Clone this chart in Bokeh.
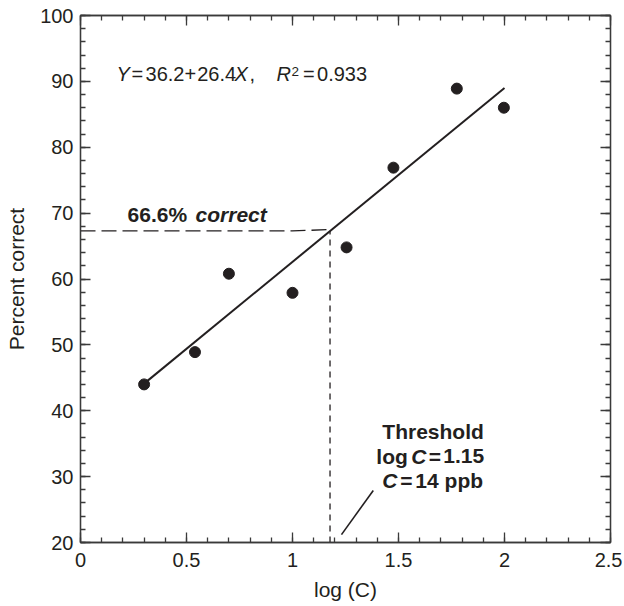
import math
from bokeh.plotting import figure
from bokeh.models import (Label, LinearAxis, SingleIntervalTicker, NumeralTickFormatter,
                          CustomJSTickFormatter, Range1d)
from bokeh.embed import file_html
from bokeh.resources import INLINE

# ---- data ----
log_c = [0.30, 0.54, 0.70, 1.00, 1.255, 1.476, 1.775, 1.997]
pct_correct = [44.0, 48.9, 60.8, 57.9, 64.8, 76.9, 88.9, 86.0]
intercept = 36.2
slope = 26.4
fit_x = [0.30, 2.00]
fit_y = [intercept + slope * v for v in fit_x]
thr_x = 1.177
thr_y = 67.3
h_guide_x = [0.0, 1.0, thr_x]
h_guide_y = [thr_y, thr_y, 67.5]
v_guide_x = [thr_x, thr_x]
v_guide_y = [20.0, thr_y]
leader_x = [1.231, 1.381]
leader_y = [21.2, 27.9]
x_ticks_interval = 0.5
y_ticks_interval = 10

INK = "#231f20"
AX = "#3a3a3a"
FONT = "Liberation Sans"

p = figure(width=622, height=604, x_range=Range1d(0, 2.5), y_range=Range1d(20, 100),
           output_backend="svg", toolbar_location=None,
           min_border_left=80, min_border_right=12, min_border_top=15, min_border_bottom=62)
p.grid.visible = False
p.outline_line_color = AX
p.outline_line_width = 1.3
p.background_fill_color = "white"
p.border_fill_color = "white"


def style_axis(ax, show_labels=True):
    ax.major_tick_in = 10
    ax.major_tick_out = 0
    ax.minor_tick_in = 5
    ax.minor_tick_out = 0
    ax.axis_line_color = AX
    ax.axis_line_width = 1.3
    ax.major_tick_line_color = AX
    ax.major_tick_line_width = 1.3
    ax.minor_tick_line_color = AX
    ax.minor_tick_line_width = 1.3
    ax.major_label_text_font = FONT
    ax.major_label_text_font_size = "20px"
    ax.major_label_text_color = INK
    ax.axis_label_text_font = FONT
    ax.axis_label_text_font_size = "21px"
    ax.axis_label_text_font_style = "normal"
    ax.axis_label_text_color = INK
    if show_labels:
        ax.major_label_standoff = 7
    else:
        ax.major_label_standoff = 0
        ax.formatter = CustomJSTickFormatter(code="return '';")


p.xaxis.ticker = SingleIntervalTicker(interval=x_ticks_interval, num_minor_ticks=5)
p.yaxis.ticker = SingleIntervalTicker(interval=y_ticks_interval, num_minor_ticks=5)
p.xaxis.formatter = NumeralTickFormatter(format="0.[0]")
style_axis(p.xaxis[0])
style_axis(p.yaxis[0])
p.xaxis.major_label_standoff = 10
p.xaxis.axis_label = "log (C)"
p.xaxis.axis_label_standoff = 8
p.yaxis.axis_label = "Percent correct"
p.yaxis.axis_label_standoff = 9

top = LinearAxis(ticker=SingleIntervalTicker(interval=x_ticks_interval, num_minor_ticks=5))
right = LinearAxis(ticker=SingleIntervalTicker(interval=y_ticks_interval, num_minor_ticks=5))
style_axis(top, False)
style_axis(right, False)
p.add_layout(top, "above")
p.add_layout(right, "right")

# guide lines
p.line(h_guide_x, h_guide_y, line_color=INK, line_width=1.3, line_dash="15 6")
p.line(v_guide_x, v_guide_y, line_color=INK, line_width=1.3, line_dash="6 5")
p.line(leader_x, leader_y, line_color=INK, line_width=1.6)

# fit line and points
p.line(fit_x, fit_y, line_color=INK, line_width=2)
p.scatter(log_c, pct_correct, size=11, fill_color=INK, line_color=INK)


def lab(text, x, y, dx=0, size="20px", style="normal", align="left"):
    p.add_layout(Label(x=x, y=y, x_offset=dx, text=text, text_font=FONT, text_font_size=size,
                       text_font_style=style, text_color=INK, text_align=align,
                       text_baseline="middle"))


# equation
ex, ey = 0.17, 91.06
lab("Y", ex, ey, 0, style="italic")
lab("=", ex, ey, 15)
lab("36.2", ex, ey, 29)
lab("+", ex, ey, 68)
lab("26.4", ex, ey, 80.7)
lab("X", ex, ey, 118, style="italic")
lab(",", ex, ey, 133)
lab("R", ex, ey, 160, style="italic")
lab("2", ex, 91.45, 175, size="13.5px")
lab("=", ex, ey, 186.5)
lab("0.933", ex, ey, 200.5)

# 66.6% correct
cx, cy = 0.222, 69.75
lab("66.6%", cx, cy, 0, size="21px", style="bold")
lab("correct", cx, cy, 68, size="21px", style="bold italic")

# threshold block
tx = 1.663
lab("Threshold", tx, 36.88, 0, size="21px", style="bold", align="center")
lab("log", tx, 33.09, -56.7, size="21px", style="bold")
lab("C", tx, 33.09, -21.7, size="21px", style="bold italic")
lab("=", tx, 33.09, -4.4, size="21px", style="bold")
lab("1.15", tx, 33.09, 10.3, size="21px", style="bold")
lab("C", tx, 29.45, -50.7, size="21px", style="bold italic")
lab("=", tx, 29.45, -32.7, size="21px", style="bold")
lab("14 ppb", tx, 29.45, -17.7, size="21px", style="bold")

open("out.html", "w").write(file_html(p, INLINE))
